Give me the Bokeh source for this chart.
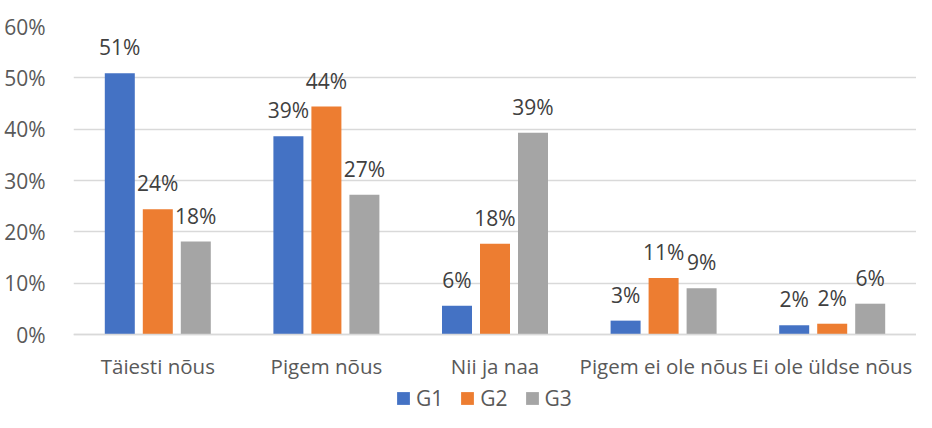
from bokeh.plotting import figure
from bokeh.models import (ColumnDataSource, Range1d, FixedTicker, NumeralTickFormatter,
                          LabelSet, Legend, LegendItem)
from bokeh.core.properties import value
from bokeh.embed import file_html
from bokeh.resources import INLINE

categories = ["Täiesti nõus", "Pigem nõus", "Nii ja naa", "Pigem ei ole nõus", "Ei ole üldse nõus"]
series_names = ["G1", "G2", "G3"]
g1 = [0.509, 0.386, 0.056, 0.027, 0.018]
g2 = [0.244, 0.444, 0.177, 0.110, 0.021]
g3 = [0.181, 0.272, 0.393, 0.090, 0.060]
y_ticks = [0.0, 0.1, 0.2, 0.3, 0.4, 0.5, 0.6]
colors = ["#4472C4", "#ED7D31", "#A5A5A5"]

FONT = "Open Sans"
FS = "21px"
LEFT, TOP = 73, 26
FRAME_W = 843
PLOT_H = 308          # pixels from 0% to 60%
BELOW_H = 78          # room under the 0% line for category labels and legend
CAT_PX = FRAME_W / 5.0
offsets = [-38 / CAT_PX, 0.0, 38 / CAT_PX]
bar_w = 30 / CAT_PX
y_bottom = -0.6 * BELOW_H / PLOT_H

p = figure(frame_width=FRAME_W, frame_height=PLOT_H + BELOW_H,
           x_range=Range1d(0, 5), y_range=Range1d(y_bottom, 0.6),
           output_backend="svg", toolbar_location=None,
           min_border_left=LEFT, min_border_right=0, min_border_top=TOP,
           min_border_bottom=0)
p.outline_line_color = None
p.background_fill_color = "white"
p.border_fill_color = "white"
p.xgrid.grid_line_color = None
p.ygrid.grid_line_color = "#d9d9d9"
p.ygrid.grid_line_width = 1.3

centers = [i + 0.5 for i in range(len(categories))]
p.xaxis.fixed_location = 0
p.xaxis.ticker = FixedTicker(ticks=centers)
p.xaxis.major_label_overrides = {c: lab for c, lab in zip(centers, categories)}
p.xaxis.major_tick_line_color = None
p.xaxis.minor_tick_line_color = None
p.xaxis.axis_line_color = "#d9d9d9"
p.xaxis.axis_line_width = 1.3
p.xaxis.major_label_standoff = 11
p.xaxis.major_label_text_font = FONT
p.xaxis.major_label_text_font_size = "20.5px"
p.xaxis.major_label_text_color = "#595959"

p.yaxis.ticker = FixedTicker(ticks=y_ticks)
p.yaxis.formatter = NumeralTickFormatter(format="0%")
p.yaxis.major_tick_line_color = None
p.yaxis.minor_tick_line_color = None
p.yaxis.axis_line_color = None
p.yaxis.major_label_standoff = 22
p.yaxis.major_label_text_font = FONT
p.yaxis.major_label_text_font_size = FS
p.yaxis.major_label_text_color = "#595959"

items = []
for name, vals, col, off in zip(series_names, [g1, g2, g3], colors, offsets):
    src = ColumnDataSource(dict(
        x=[c + off for c in centers],
        top=vals,
        label=[f"{round(v * 100):d}%" for v in vals],
    ))
    r = p.vbar(x="x", top="top", bottom=0, width=bar_w, source=src,
               fill_color=col, line_color=None)
    items.append(LegendItem(label=name, renderers=[r]))
    lbl = LabelSet(x="x", y="top", text="label", source=src, y_offset=18,
                   text_align="center", text_baseline="alphabetic",
                   text_font=value(FONT), text_font_size=FS, text_color="#404040")
    p.add_layout(lbl)

legend = Legend(items=items, location=(322, 0), orientation="horizontal",
                padding=0, margin=0, spacing=16, glyph_width=16, glyph_height=16,
                label_standoff=5, border_line_color=None, background_fill_alpha=0,
                label_text_font=FONT, label_text_font_size=FS,
                label_text_color="#595959")
p.add_layout(legend)

open("out.html", "w").write(file_html(p, INLINE))
